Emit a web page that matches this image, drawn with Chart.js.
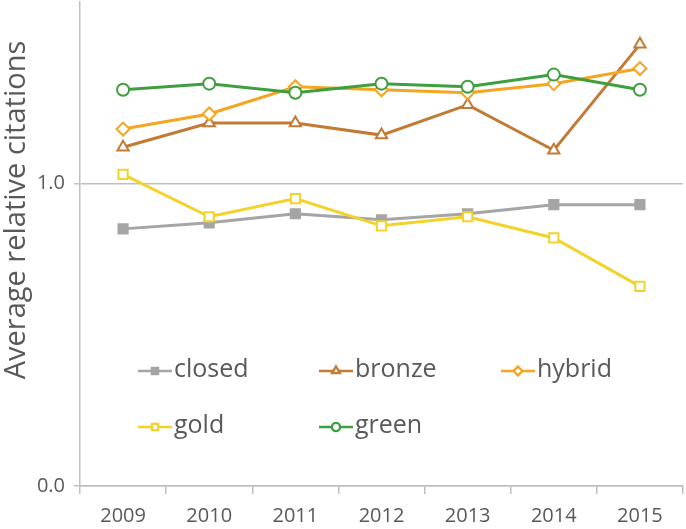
<!DOCTYPE html>
<html>
<head>
<meta charset="utf-8">
<script src="https://cdn.jsdelivr.net/npm/chart.js@4.4.1/dist/chart.umd.min.js"></script>
<style>
    html, body { margin: 0; padding: 0; background: #fff; }
    #wrap { width: 686px; height: 529px; }
</style>
</head>
<body>
<div id="wrap"><canvas id="chart"></canvas></div>
<script>
let years = ["2009", "2010", "2011", "2012", "2013", "2014", "2015"];
let closedVals = [0.85, 0.87, 0.90, 0.88, 0.90, 0.93, 0.93];
let bronzeVals = [1.12, 1.20, 1.20, 1.16, 1.26, 1.11, 1.46];
let hybridVals = [1.18, 1.23, 1.32, 1.31, 1.30, 1.33, 1.38];
let goldVals = [1.03, 0.89, 0.95, 0.86, 0.89, 0.82, 0.66];
let greenVals = [1.31, 1.33, 1.30, 1.33, 1.32, 1.36, 1.31];
let yTicks = [0, 1];

let textColor = "#595959";
let axisColor = "#bfbfbf";
let font = "'Open Sans', sans-serif";

function series(label, data, color, style, radius, filled, order) {
    return {
        label: label,
        data: data,
        borderColor: color,
        backgroundColor: filled ? color : "#fff",
        borderWidth: 3,
        pointStyle: style,
        pointRadius: radius,
        pointBorderWidth: 2,
        pointBackgroundColor: filled ? color : "#fff",
        pointBorderColor: color,
        tension: 0,
        clip: false,
        order: order
    };
}

// legend drawn inside the plot, two rows like the original
let legendPlugin = {
    id: "innerLegend",
    afterDraw(chart) {
        let ctx = chart.ctx;
        let slots = [[138, 371], [319, 371], [501, 371], [138, 427], [319, 427]];
        chart.data.datasets.forEach((ds, i) => {
            let [x, y] = slots[i];
            ctx.save();
            ctx.strokeStyle = ds.borderColor;
            ctx.lineWidth = 2.5;
            ctx.beginPath();
            ctx.moveTo(x, y);
            ctx.lineTo(x + 34, y);
            ctx.stroke();
            Chart.helpers.drawPoint(ctx, {
                pointStyle: ds.pointStyle,
                radius: ds.pointRadius * 0.65,
                borderWidth: 2
            }, x + 17, y);
            ctx.fillStyle = ds.pointBackgroundColor;
            ctx.fill();
            ctx.strokeStyle = ds.borderColor;
            ctx.lineWidth = 2;
            ctx.stroke();
            ctx.fillStyle = textColor;
            ctx.font = "25px " + font;
            ctx.textBaseline = "middle";
            ctx.fillText(ds.label, x + 36, y - 1);
            ctx.restore();
        });
    }
};

let titlePlugin = {
    id: "yTitle",
    afterDraw(chart) {
        let ctx = chart.ctx;
        ctx.save();
        ctx.translate(17, 210);
        ctx.rotate(-Math.PI / 2);
        ctx.fillStyle = textColor;
        ctx.font = "29px " + font;
        ctx.textAlign = "center";
        ctx.textBaseline = "middle";
        ctx.fillText("Average relative citations", 0, 0);
        ctx.restore();
    }
};

new Chart(document.getElementById("chart"), {
    type: "line",
    data: {
        labels: years,
        datasets: [
            series("closed", closedVals, "#a5a5a5", "rect", 6.5, true, 5),
            series("bronze", bronzeVals, "#c27a35", "triangle", 6.5, false, 4),
            series("hybrid", hybridVals, "#f4a522", "rectRot", 6.5, false, 3),
            series("gold", goldVals, "#f4d22a", "rect", 6.5, false, 2),
            series("green", greenVals, "#3f9f3f", "circle", 6, false, 1)
        ]
    },
    options: {
        responsive: true,
        maintainAspectRatio: false,
        animation: false,
        layout: { autoPadding: false, padding: { top: 2, right: 3, left: 0, bottom: 0 } },
        plugins: {
            legend: { display: false },
            tooltip: { enabled: false }
        },
        scales: {
            x: {
                offset: true,
                grid: { display: true, drawOnChartArea: false, offset: true, tickLength: 8, color: axisColor, lineWidth: 1.5 },
                border: { color: axisColor, width: 1.5 },
                ticks: { color: textColor, font: { family: font, size: 20 }, padding: 10 },
                afterFit(scale) {
                    scale.height = 43;
                    scale.paddingLeft = 0;
                    scale.paddingRight = 0;
                }
            },
            y: {
                min: 0,
                max: 1.6,
                afterBuildTicks(scale) { scale.ticks = yTicks.map(v => ({ value: v })); },
                grid: { color: axisColor, lineWidth: 1.5, tickLength: 6 },
                border: { color: axisColor, width: 1.5 },
                ticks: {
                    color: textColor,
                    font: { family: font, size: 20 },
                    padding: 9,
                    callback: v => v.toFixed(1)
                },
                afterFit(scale) {
                    scale.width = 80;
                    scale.paddingTop = 0;
                    scale.paddingBottom = 0;
                }
            }
        }
    },
    plugins: [legendPlugin, titlePlugin]
});
</script>
</body>
</html>
